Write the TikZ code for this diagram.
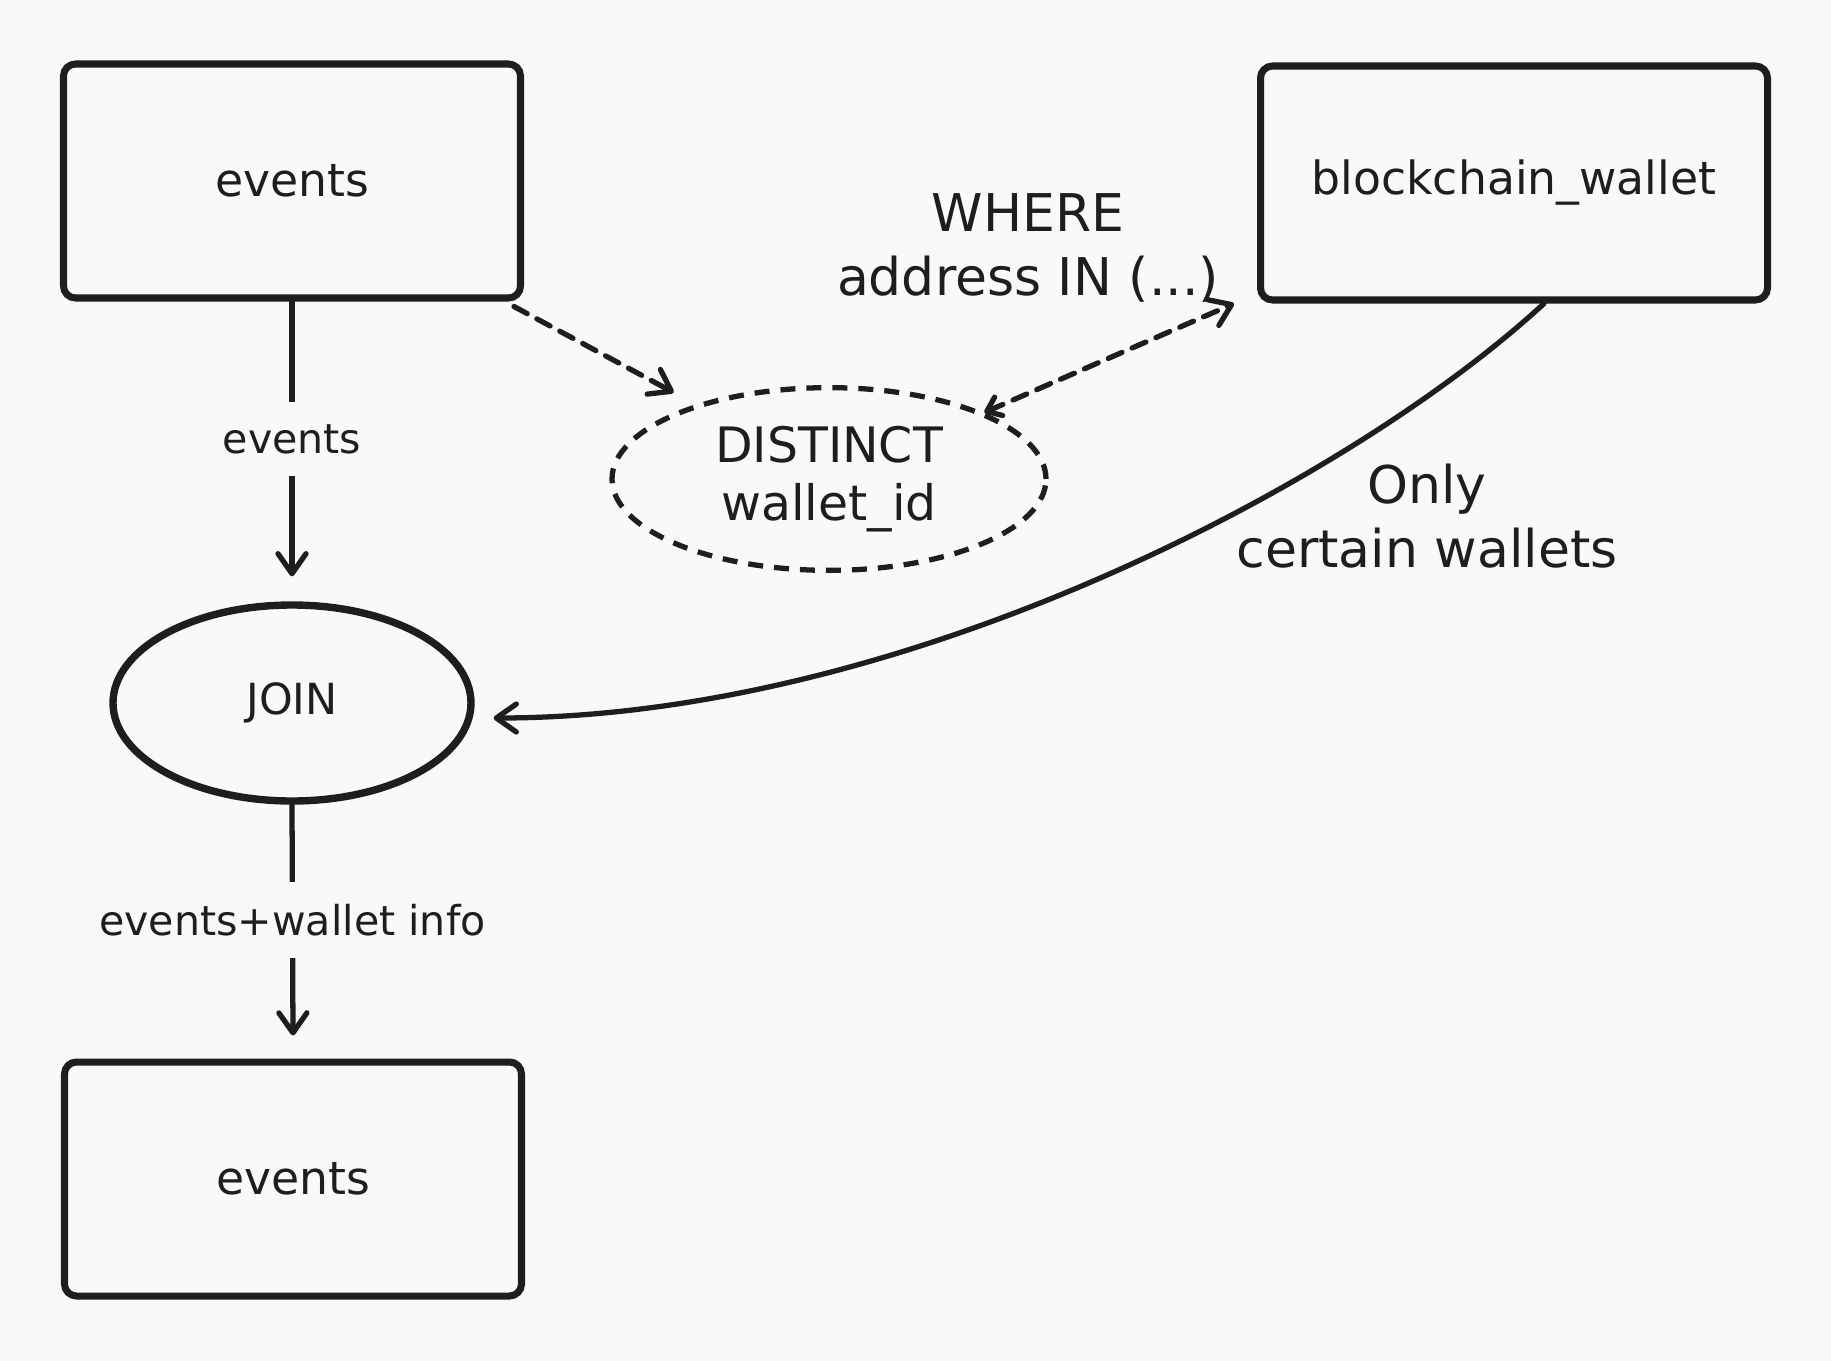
\documentclass[tikz,border=0pt]{standalone}
\usepackage{fontspec}
\setmainfont{DejaVu Sans}
\usepackage{xcolor}
\usetikzlibrary{shapes.geometric, arrows.meta, positioning}
\definecolor{exInk}{HTML}{1E1E1E}
\definecolor{exBg}{HTML}{F8F9FA}

\begin{document}
\begin{tikzpicture}[x=0.1mm, y=-0.1mm,
    box/.style={draw=exInk, line width=2pt, rounded corners=1.2mm, minimum width=45.7mm,
                minimum height=23.4mm, text=exInk, font=\fontsize{13}{16}\selectfont},
    oval/.style={ellipse, draw=exInk, line width=2.1pt, minimum width=35.8mm, minimum height=19.6mm,
                 text=exInk, font=\fontsize{12.2}{15}\selectfont},
    lbl/.style={text=exInk, align=center, font=\fontsize{14.8}{18.4}\selectfont},
    cut/.style={lbl, fill=exBg, inner xsep=1mm, inner ysep=2.2mm, font=\fontsize{11.7}{14}\selectfont},
    link/.style={draw=exInk, line width=1.5pt, line cap=round, -{Straight Barb[round, length=2mm, width=2.8mm]}},
    dlink/.style={link, dash pattern=on 1.5mm off 1.1mm}
  ]
  \fill[exBg] (0,0) rectangle (1831,1361);

  % tables
  \node[box] (ev) at (292,181) {events};
  \node[box, minimum width=50.7mm] (bw) at (1514,183) {blockchain\_wallet};
  \node[box] (out) at (293,1179) {events};

  % operations
  \node[oval] (join) at (292,703) {JOIN};
  \node[oval, dashed, dash pattern=on 1.5mm off 1.1mm, line width=1.5pt, minimum width=43.4mm,
        minimum height=17.8mm, align=center, font=\fontsize{13.9}{16.5}\selectfont] (dist) at (829,479)
        {DISTINCT\\wallet\_id};

  \node[lbl] (where) at (1028,248) {WHERE\\address IN (...)};
  \node[lbl] (only) at (1427,516) {Only\\certain wallets};

  % flow
  \draw[link] (ev.south) -- node[cut] {events} ([yshift=2.5mm]join.north);
  \draw[link] (join.south) -- node[cut] {events+wallet info} ([yshift=2.3mm]out.north);
  \draw[dlink] ([xshift=-1mm,yshift=-0.5mm]ev.south east) -- ([yshift=2mm]dist.north west);
  \draw[dlink, {Straight Barb[round, length=1.3mm, width=2mm]}-{Straight Barb[round, length=2mm, width=2.8mm]}]
    (dist.north east) -- ([xshift=-2.3mm]bw.south west);
  \draw[link] ([xshift=3mm]bw.south) .. controls +(-194,179) and +(410,0) .. ([xshift=1.9mm,yshift=-1.5mm]join.east);
\end{tikzpicture}
\end{document}
